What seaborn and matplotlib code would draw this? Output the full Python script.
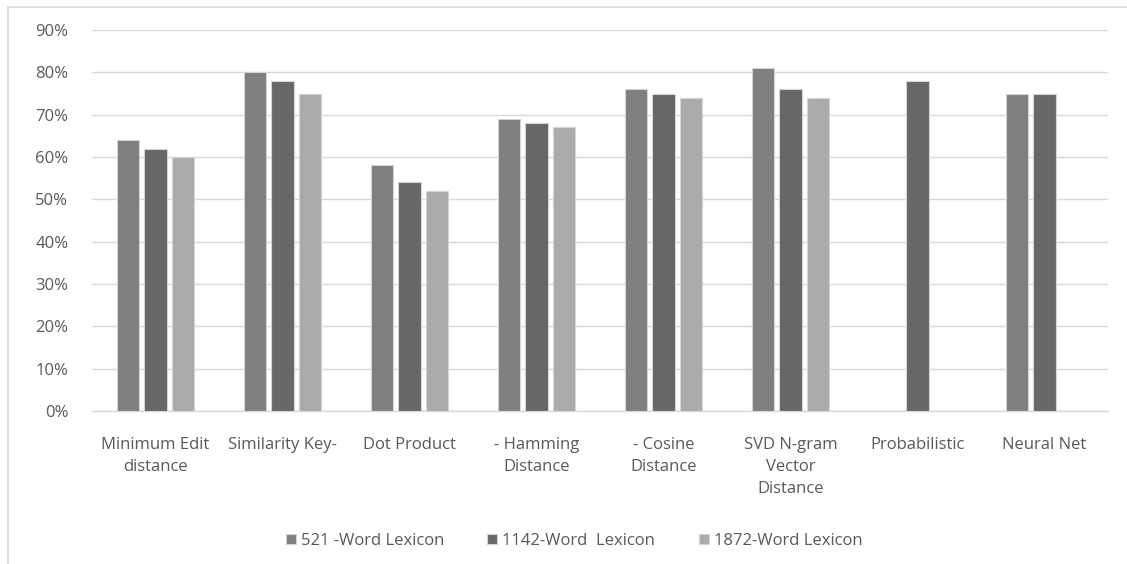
import matplotlib
matplotlib.use("Agg")
import matplotlib.pyplot as plt
from matplotlib.patches import Rectangle
from matplotlib.ticker import PercentFormatter, FixedLocator
import numpy as np
import pandas as pd
import seaborn as sns

# Methods compared along the x axis
methods = [
    "Minimum Edit\ndistance",
    "Similarity Key-",
    "Dot Product",
    "- Hamming\nDistance",
    "- Cosine\nDistance",
    "SVD N-gram\nVector\nDistance",
    "Probabilistic",
    "Neural Net",
]
lexicons = ["521 -Word Lexicon", "1142-Word  Lexicon", "1872-Word Lexicon"]

# Accuracy per lexicon size (None = not reported)
acc_521 = [0.64, 0.80, 0.58, 0.69, 0.76, 0.81, None, 0.75]
acc_1142 = [0.62, 0.78, 0.54, 0.68, 0.75, 0.76, 0.78, 0.75]
acc_1872 = [0.60, 0.75, 0.52, 0.67, 0.74, 0.74, None, None]

bar_colors = ["#7f7f7f", "#676767", "#ababab"]
text_color = "#595959"
grid_color = "#d9d9d9"

rows = []
for lex, vals in zip(lexicons, [acc_521, acc_1142, acc_1872]):
    for m, v in zip(methods, vals):
        if v is not None:
            rows.append({"method": m, "lexicon": lex, "accuracy": v})
df = pd.DataFrame(rows)

sns.set_theme(style="white")
plt.rcParams["font.family"] = ["Open Sans", "DejaVu Sans"]

fig = plt.figure(figsize=(11.27, 5.64), dpi=100)
ax = fig.add_axes([92 / 1127, 1 - 411 / 564, (1108 - 92) / 1127, (411 - 30) / 564])

# chart-area border (top and left edges visible)
fig.patches.append(Rectangle((8 / 1127, -0.1), 1.2, 1 - 7 / 564 + 0.1,
                             transform=fig.transFigure, fill=False,
                             edgecolor=grid_color, linewidth=1.2, zorder=0))

sns.barplot(data=df, x="method", y="accuracy", hue="lexicon",
            order=methods, hue_order=lexicons, palette=bar_colors,
            width=0.66, gap=0.21, errorbar=None, ax=ax,
            edgecolor="#d4d4d4", linewidth=0.8, zorder=3)

ax.set_ylim(0, 0.9)
ax.set_xlim(-0.5, len(methods) - 0.5)
ax.yaxis.set_major_locator(FixedLocator(np.arange(0, 0.91, 0.1)))
ax.yaxis.set_major_formatter(PercentFormatter(1.0, decimals=0))
ax.grid(axis="y", color=grid_color, linewidth=1.0, zorder=0)
ax.set_axisbelow(True)
for side in ["top", "right", "left"]:
    ax.spines[side].set_visible(False)
ax.spines["bottom"].set_color(grid_color)
ax.spines["bottom"].set_linewidth(1.0)
ax.set_xlabel("")
ax.set_ylabel("")
ax.tick_params(axis="both", length=0, colors=text_color, labelsize=12)
ax.tick_params(axis="x", pad=19)
ax.tick_params(axis="y", pad=17)
for lbl in ax.get_xticklabels():
    lbl.set_linespacing(1.5)
    lbl.set_verticalalignment("top")

handles, labels = ax.get_legend_handles_labels()
ax.get_legend().remove()
fig.legend(handles, labels, loc="center", bbox_to_anchor=(574 / 1127, 1 - 541 / 564),
           ncol=3, frameon=False, fontsize=12, labelcolor=text_color,
           handlelength=0.6, handleheight=0.6, handletextpad=0.3,
           columnspacing=2.6)

fig.savefig("out.png", dpi=100)
